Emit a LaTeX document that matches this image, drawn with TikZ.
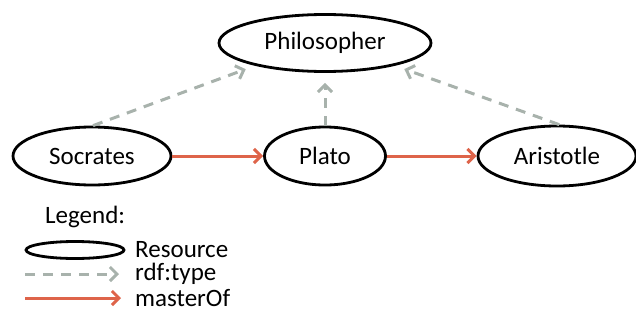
\documentclass[tikz,border=0pt]{standalone}
\usepackage{fontspec}
\setmainfont{Carlito}
\usetikzlibrary{shapes.geometric,arrows.meta}
\definecolor{typegray}{RGB}{168,178,172}
\definecolor{masterred}{RGB}{222,100,74}

\begin{document}
\begin{tikzpicture}[x=1pt,y=-1pt,
    res/.style={ellipse,draw,line width=2.8pt,inner sep=0pt,font=\fontsize{25}{28}\selectfont},
    typeof/.style={-{Straight Barb[length=7pt,width=14pt]},dash pattern=on 10pt off 8pt,line width=3pt,color=typegray,shorten >=10pt},
    master/.style={-{Straight Barb[length=7pt,width=14pt]},line width=3pt,color=masterred},
    lbl/.style={anchor=west,inner sep=0pt,font=\fontsize{25}{28}\selectfont}]
                \useasboundingbox (0,0) rectangle (636,324);
                \node[res,minimum width=212pt,minimum height=57pt] (phil) at (325,43){Philosopher};
                \node[res,minimum width=158pt,minimum height=58pt] (soc) at (92,156){Socrates};
                \node[res,minimum width=121pt,minimum height=58pt] (plato) at (325,156){Plato};
                \node[res,minimum width=158pt,minimum height=60pt] (ari) at (557,156){Aristotle};
                \draw[typeof] (soc.88) -- (phil.198);
                \draw[typeof] (plato) -- (phil);
                \draw[typeof] (ari.86) -- (phil.-18);
                \draw[master] (soc) -- (plato);
                \draw[master] (plato) -- (ari);
                % legend
                \node[lbl] (leg) at (45,217){Legend:};
                \node[res,minimum width=98pt,minimum height=17pt] (legres) at (75,250){};
                \node[lbl] (legrestxt) at (135,250){Resource};
                \coordinate (ta) at (25,274);
                \node[lbl] (legtype) at (135,274){rdf:type};
                \coordinate (ma) at (25,298);
                \node[lbl] (legmaster) at (135,298){masterOf};
                \draw[typeof,shorten >=0pt] (ta) -- ([xshift=-16pt]legtype.west);
                \draw[master] (ma) -- ([xshift=-14pt]legmaster.west);
            \end{tikzpicture}
\end{document}
